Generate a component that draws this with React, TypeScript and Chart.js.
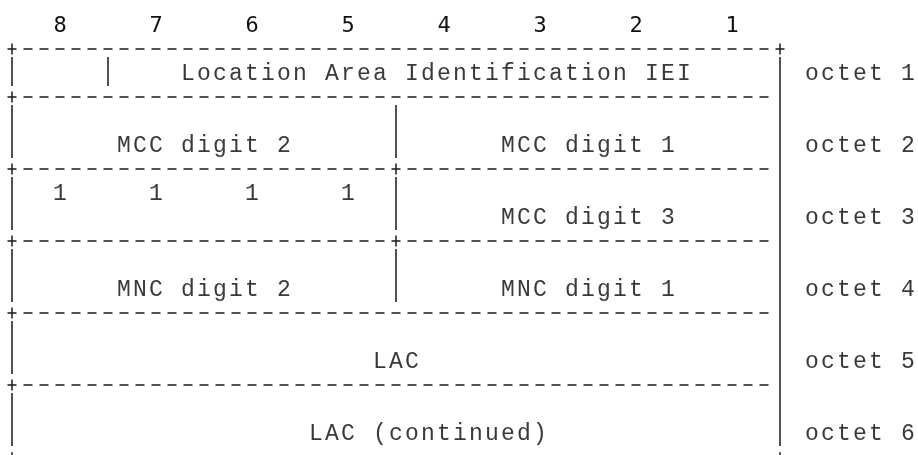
import React, { useEffect, useRef } from "react";
import { Chart, registerables } from "chart.js";

Chart.register(...registerables);

// ---- data ----
const BIT_LABELS = ["8", "7", "6", "5", "4", "3", "2", "1"];
const OCTET_LABELS = ["octet 1", "octet 2", "octet 3", "octet 4", "octet 5", "octet 6"];
const FIELD_LABELS = [
  "Location Area Identification IEI",
  "MCC digit 2",
  "MCC digit 1",
  "1",
  "1",
  "1",
  "1",
  "MCC digit 3",
  "MNC digit 2",
  "MNC digit 1",
  "LAC",
  "LAC (continued)",
];

// ---- layout (character grid: column, text line) ----
const FIELD_POS: [number, number][] = [
  [11, 3],
  [7, 6],
  [31, 6],
  [3, 8],
  [9, 8],
  [15, 8],
  [21, 8],
  [31, 9],
  [7, 12],
  [31, 12],
  [23, 15],
  [19, 18],
];
const OCTET_LINES = [3, 6, 9, 12, 15, 18];
const OCTET_COL = 50;
const BIT_LINE = 1;
const SEPARATORS: { line: number; plus: number[]; end: number }[] = [
  { line: 2, plus: [0, 48], end: 48 },
  { line: 4, plus: [0], end: 47 },
  { line: 7, plus: [0, 24], end: 47 },
  { line: 10, plus: [0, 24], end: 47 },
  { line: 13, plus: [0], end: 47 },
  { line: 16, plus: [0], end: 47 },
];
// vertical bar runs: column, first text line, last text line
const BARS: [number, number, number][] = [
  [0, 3, 3], [0, 5, 6], [0, 8, 9], [0, 11, 12], [0, 14, 15], [0, 17, 18],
  [48, 3, 18],
  [6, 3, 3],
  [24, 5, 6], [24, 8, 9], [24, 11, 12],
];
const TAIL_BARS = [0, 48];

const W = 918;
const H = 455;
const CELL = 16; // px per character
const LINE = 24; // px per text line
const X0 = 12; // px of column 0
const Y0 = 25; // px of line 1

export default function App() {
  const ref = useRef<HTMLCanvasElement | null>(null);

  useEffect(() => {
    if (!ref.current) return;
    const datasets: any[] = [];
    const ink = "#1a1a1a";
    const half = 4.5 / CELL;
    SEPARATORS.forEach((s) => {
      datasets.push({
        data: [
          { x: -half, y: s.line },
          { x: s.end + half, y: s.line },
        ],
        borderColor: ink,
        borderWidth: 1.5,
        borderDash: [9, 7],
      });
      s.plus.forEach((c) => {
        datasets.push({
          data: [
            { x: c, y: s.line - 0.23 },
            { x: c, y: s.line + 0.23 },
          ],
          borderColor: ink,
          borderWidth: 1.5,
        });
      });
    });
    BARS.forEach(([c, a, b]) => {
      datasets.push({
        data: [
          { x: c, y: a - 16 / LINE },
          { x: c, y: b + 13 / LINE },
        ],
        borderColor: ink,
        borderWidth: 1.5,
      });
    });
    TAIL_BARS.forEach((c) => {
      datasets.push({
        data: [
          { x: c, y: 18.8 },
          { x: c, y: 19.5 },
        ],
        borderColor: ink,
        borderWidth: 1.5,
      });
    });

    const texts: { s: string; col: number; line: number; header: boolean }[] = [];
    BIT_LABELS.forEach((b, i) => texts.push({ s: b, col: 3 + 6 * i, line: BIT_LINE, header: true }));
    OCTET_LABELS.forEach((o, i) => texts.push({ s: o, col: OCTET_COL, line: OCTET_LINES[i], header: false }));
    FIELD_LABELS.forEach((f, i) => texts.push({ s: f, col: FIELD_POS[i][0], line: FIELD_POS[i][1], header: false }));

    const textPlugin = {
      id: "gridText",
      afterDatasetsDraw(chart: any) {
        const ctx = chart.ctx;
        const xs = chart.scales.x;
        const ys = chart.scales.y;
        ctx.save();
        ctx.textAlign = "center";
        ctx.textBaseline = "middle";
        texts.forEach((t) => {
          ctx.font = t.header ? '22px "DejaVu Sans Mono"' : '23px "Liberation Mono"';
          ctx.fillStyle = t.header ? "#111" : "#3a3a3a";
          const y = ys.getPixelForValue(t.line) + 1;
          for (let i = 0; i < t.s.length; i++) {
            const ch = t.s[i];
            if (ch === " ") continue;
            ctx.fillText(ch, xs.getPixelForValue(t.col + i), y);
          }
        });
        ctx.restore();
      },
    };

    const chart = new Chart(ref.current, {
      type: "scatter",
      data: { datasets },
      options: {
        animation: false,
        responsive: false,
        showLine: true,
        elements: { point: { radius: 0, hoverRadius: 0 }, line: { tension: 0 } },
        layout: { padding: 0 },
        plugins: { legend: { display: false }, tooltip: { enabled: false } },
        scales: {
          x: { type: "linear", display: false, min: -X0 / CELL, max: (W - X0) / CELL },
          y: {
            type: "linear",
            display: false,
            reverse: true,
            min: 1 - Y0 / LINE,
            max: 1 + (H - Y0) / LINE,
          },
        },
      } as any,
      plugins: [textPlugin],
    });
    return () => chart.destroy();
  }, []);

  return (
    <div style={{ position: "absolute", left: 0, top: 0, width: W, height: H, background: "#fff" }}>
      <canvas ref={ref} width={W} height={H} />
    </div>
  );
}
